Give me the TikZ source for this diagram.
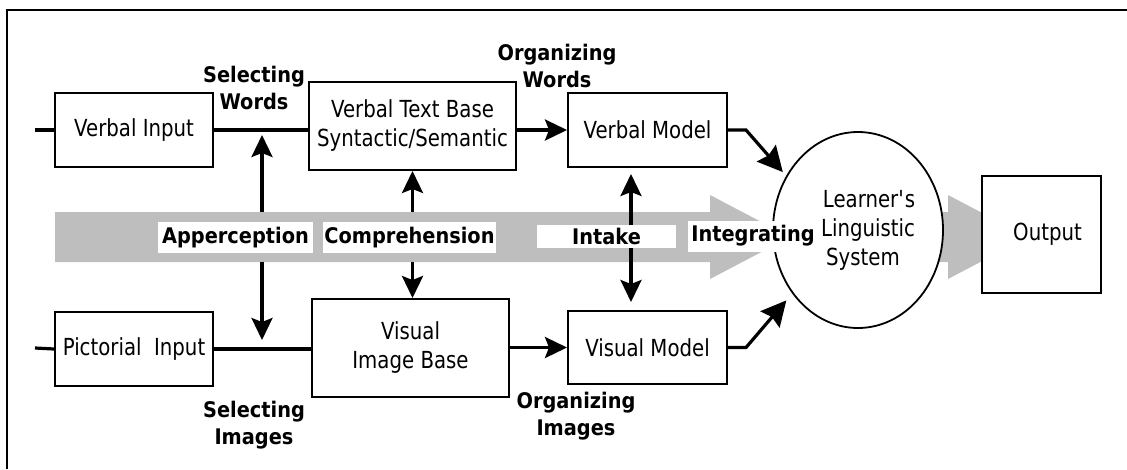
\documentclass[tikz,border=0pt]{standalone}
\usepackage{fontspec}
\setmainfont{DejaVu Sans}[FakeStretch=0.84]
\newfontfamily\tagfont{DejaVu Sans}[FakeStretch=0.9]
\usetikzlibrary{arrows.meta,shapes.geometric}
\definecolor{banda}{RGB}{190,190,190}
\tikzset{
  caja/.style={draw, line width=2pt, fill=white, inner sep=0pt, align=center},
  etiq/.style={font={\tagfont\bfseries\fontsize{21.5}{27}\selectfont}, align=center},
  marca/.style={etiq, fill=white, inner sep=0pt, minimum height=31pt},
  linea/.style={line width=3.2pt},
  flecha/.style={linea, -{Stealth[length=22pt,width=21pt,inset=4pt]}},
  grande/.style={linea, -{Stealth[length=25pt,width=25pt,inset=3pt]}},
}
\begin{document}
\begin{tikzpicture}[x=1pt, y=-1pt, font=\fontsize{23.5}{29}\selectfont]
\useasboundingbox (0,0) rectangle (1127,469);

% Marco
\draw[line width=2.2pt] (7,469) -- (7,10) -- (1127,10);

% Flechas grises
\fill[banda] (55,212) -- (710,212) -- (710,195) -- (790,237) -- (710,279)
  -- (710,262) -- (55,262) -- cycle;
\fill[banda] (900,212) -- (948,212) -- (948,195) -- (1028,237) -- (948,279)
  -- (948,262) -- (900,262) -- cycle;

% Cajas
\node[caja, minimum width=158pt, minimum height=74pt] (vin) at (134,130) {Verbal Input};
\node[caja, minimum width=207pt, minimum height=88pt] (vtb) at (412.5,126) {Verbal Text Base\\Syntactic/Semantic};
\node[caja, minimum width=159pt, minimum height=74pt] (vmod) at (647.5,130) {Verbal Model};
\node[caja, minimum width=158pt, minimum height=74pt] (pin) at (134,349) {Pictorial\ \ Input};
\node[caja, minimum width=197pt, minimum height=98pt] (vib) at (410.5,348) {Visual\\Image Base};
\node[caja, minimum width=159pt, minimum height=73pt] (vismod) at (647.5,347.5) {Visual Model};
\node[caja, ellipse, line width=1.8pt, minimum width=170pt, minimum height=196pt] (lls) at (858,230)
  {\hspace*{22pt}Learner\textquotesingle s\\\hspace*{20pt}Linguistic\\\hspace*{10pt}System};
\node[caja, minimum width=119pt, minimum height=117pt] (out) at (1041.5,234.5) {\hspace*{12pt}Output};

% Etiquetas en la banda
\node[marca, minimum width=155pt] (aper) at (235.5,237.5) {Apperception};
\node[marca, minimum width=173pt] (comp) at (409.5,237.5) {Comprehension};
\node[marca, minimum width=139pt, minimum height=23pt] (intk) at (606.5,236.5) {Intake};
\node[marca, minimum width=130pt] (integ) at (753,236) {Integrating};

% Etiquetas de procesos
\node[etiq] (selw) at (254,88) {Selecting\\Words};
\node[etiq] (orgw) at (557,66) {Organizing\\Words};
\node[etiq] (seli) at (254,425) {Selecting\\Images};
\node[etiq] (orgi) at (576,416) {Organizing\\Images};

% Conectores
\coordinate (vin-in) at (35,130);
\coordinate (pin-in) at (35,348);
\coordinate (wsel) at (262,130);
\coordinate (isel) at (262,348);
\coordinate (btop) at (0,212);
\coordinate (bbot) at (0,262);
\coordinate (itk) at (631,0);

\draw[linea] (vin-in) -- (vin.west);
\draw[linea] (pin-in) -- (pin.west);
\draw[linea] (vin.east) -- (vin.east -| vtb.west);
\draw[linea] (pin.east) -- (pin.east -| vib.west);
\draw[flecha] (vtb.east |- vmod) -- (vmod.west);
\draw[flecha] (vib.east |- vismod) -- (vismod.west);
\draw[grande, shorten >=5pt] (vmod.east) -- ++(18,0) -- (lls.143);
\draw[grande, shorten >=9pt] (vismod.east) -- ++(18,0) -- (lls.224);

\draw[flecha, shorten >=5pt] (btop -| wsel) -- (wsel);
\draw[flecha, shorten >=8pt] (bbot -| isel) -- (isel);
\draw[flecha] (btop -| vtb) -- (vtb.south);
\draw[flecha] (bbot -| vtb) -- (vtb |- vib.north);
\draw[flecha, shorten >=6pt] (intk.north -| itk) -- (vmod.south -| itk);
\draw[flecha, shorten >=8pt] (intk.south -| itk) -- (vismod.north -| itk);
\end{tikzpicture}
\end{document}
